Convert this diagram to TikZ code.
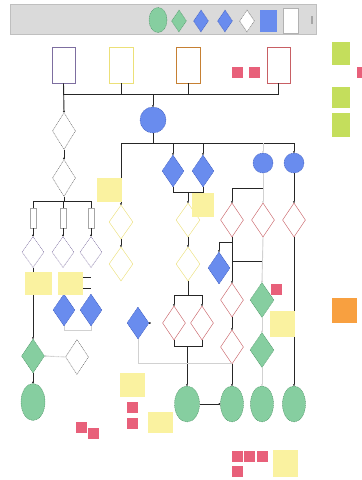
\documentclass[tikz,border=0pt]{standalone}
\usetikzlibrary{shapes.geometric,arrows.meta}

\definecolor{mint}{RGB}{134,206,160}
\definecolor{mintdark}{RGB}{80,150,105}
\definecolor{cornflower}{RGB}{105,140,238}
\definecolor{cornflowerdark}{RGB}{60,90,190}
\definecolor{rosered}{RGB}{200,95,100}
\definecolor{paleyellow}{RGB}{236,224,120}
\definecolor{dustypurple}{RGB}{125,110,160}
\definecolor{stickyyellow}{RGB}{250,242,160}
\definecolor{stickylime}{RGB}{196,222,92}
\definecolor{stickypink}{RGB}{232,96,122}
\definecolor{stickyorange}{RGB}{248,160,64}
\definecolor{barfill}{RGB}{218,218,218}

\tikzset{
  link/.style={line width=2.6pt,draw=black!85},
  faint/.style={line width=2.6pt,draw=black!18},
  tip/.style={-{Circle[length=5pt]}},
  shapebase/.style={inner sep=0pt,line width=1.2pt},
  endoval/.style={shapebase,ellipse,draw=mintdark,densely dashed,fill=mint,minimum width=2.3cm,minimum height=3.6cm},
  okdiam/.style={shapebase,diamond,draw=mintdark,densely dashed,fill=mint,minimum width=2.3cm,minimum height=3.4cm},
  bluediam/.style={shapebase,diamond,draw=cornflowerdark,densely dashed,fill=cornflower,minimum width=2.2cm,minimum height=3.2cm},
  bluecirc/.style={shapebase,circle,draw=cornflowerdark,densely dashed,fill=cornflower,minimum size=2cm},
  reddiam/.style={shapebase,diamond,draw=rosered,fill=white,minimum width=2.3cm,minimum height=3.4cm},
  ylwdiam/.style={shapebase,diamond,draw=paleyellow,fill=white,minimum width=2.4cm,minimum height=3.4cm},
  prpdiam/.style={shapebase,diamond,draw=dustypurple,densely dashed,fill=white,minimum width=2.2cm,minimum height=3.1cm},
  greydiam/.style={shapebase,diamond,draw=black!60,densely dashed,fill=white,minimum width=2.3cm,minimum height=3.7cm},
  header/.style={shapebase,rectangle,fill=white,line width=1.6pt,minimum width=2.3cm,minimum height=3.6cm},
  tag/.style={shapebase,rectangle,draw=black!35,fill=white,minimum width=0.55cm,minimum height=2cm},
  sticky/.style={inner sep=0pt,rectangle,fill=stickyyellow,minimum width=2.5cm,minimum height=2.4cm},
  limenote/.style={inner sep=0pt,rectangle,fill=stickylime,minimum width=1.8cm,minimum height=2.2cm},
  pinksq/.style={inner sep=0pt,rectangle,fill=stickypink,minimum size=1.1cm},
}

\begin{document}
\begin{tikzpicture}[x=0.1cm,y=-0.1cm]
  \useasboundingbox (0,0) rectangle (361,480);

  % legend strip
  \draw[fill=barfill,draw=black!25,line width=1pt] (10,4) rectangle (316,34);
  \node[endoval,minimum width=1.8cm,minimum height=2.5cm] (lgEnd) at (158,20) {};
  \node[okdiam,minimum width=1.5cm,minimum height=2.2cm] (lgOk) at (179,21) {};
  \node[bluediam,minimum width=1.5cm,minimum height=2.2cm] (lgBlueA) at (201,21) {};
  \node[bluediam,minimum width=1.5cm,minimum height=2.2cm] (lgBlueB) at (225,21) {};
  \node[greydiam,densely dashed,minimum width=1.5cm,minimum height=2.2cm] (lgPlain) at (247,21) {};
  \node[shapebase,rectangle,fill=cornflower,minimum width=1.7cm,minimum height=2.2cm] (lgBox) at (268.5,21) {};
  \node[shapebase,rectangle,draw=black!30,fill=white,minimum width=1.5cm,minimum height=2.5cm] (lgCard) at (290.5,20.5) {};
  \node[shapebase,rectangle,fill=black!35,minimum width=0.2cm,minimum height=0.8cm] (lgMark) at (312,20) {};

  % column headers
  \node[header,draw=dustypurple] (colPurple) at (63.5,65) {};
  \node[header,draw=paleyellow,minimum width=2.4cm] (colYellow) at (121,65) {};
  \node[header,draw=stickyorange!80!black,minimum width=2.4cm] (colOrange) at (188,65) {};
  \node[header,draw=rosered] (colRed) at (278.5,65) {};

  \coordinate (topbus) at (0,94);
  \coordinate (midbus) at (0,143);

  % left branch
  \node[greydiam] (q1) at (64,131) {};
  \node[greydiam] (q2) at (64,178) {};
  \foreach \n/\x in {A/33,B/63,C/91}{
    \node[tag] (tg\n) at (\x,218) {};
    \node[prpdiam] (pd\n) at (\x,252) {};
    \draw[link,tip] (tg\n.south) -- (pd\n.north);
    \draw[link] (tg\n |- 0,201) -- (tg\n.north);
  }
  \node[bluediam] (bdP) at (64,310) {};
  \node[bluediam] (bdQ) at (91,310) {};
  \node[okdiam] (gdL) at (33,356) {};
  \node[greydiam,minimum height=3.5cm] (wdL) at (77,357) {};
  \node[endoval,minimum width=2.4cm,minimum height=3.7cm] (elL) at (33,402) {};

  % centre
  \node[bluecirc,minimum size=2.6cm] (hub) at (153,120) {};
  \node[ylwdiam] (ydA) at (121,222) {};
  \node[ylwdiam] (ydB) at (121,264) {};
  \node[bluediam] (bdA) at (173,171) {};
  \node[bluediam] (bdB) at (203,171) {};
  \node[ylwdiam] (ydC) at (188,220) {};
  \node[ylwdiam] (ydD) at (188,264) {};
  \node[reddiam] (rdD) at (174,323) {};
  \node[reddiam] (rdE) at (202,323) {};
  \node[bluediam] (bdL) at (138,323) {};

  % right side
  \node[bluecirc] (cirA) at (263,163) {};
  \node[bluecirc] (cirB) at (294,163) {};
  \node[reddiam] (rdA) at (232,220) {};
  \node[reddiam] (rdB) at (263,220) {};
  \node[reddiam] (rdC) at (294,220) {};
  \node[bluediam] (bdC) at (219,268) {};
  \node[reddiam] (rdF) at (232,300) {};
  \node[reddiam] (rdG) at (232,347) {};
  \node[okdiam,minimum width=2.4cm,minimum height=3.5cm] (gnA) at (262,300) {};
  \node[okdiam,minimum width=2.4cm,minimum height=3.5cm] (gnB) at (262,350) {};

  \node[endoval,minimum width=2.5cm] (elA) at (187,404) {};
  \foreach \n/\x in {B/232,C/262,D/294}
    \node[endoval] (el\n) at (\x,404) {};

  % header bus
  \draw[link] (colPurple |- topbus) -- (colRed |- topbus);
  \foreach \c in {colYellow,colOrange,colRed}
    \draw[link] (\c.south) -- (\c |- topbus);
  \draw[link,tip] (colPurple.south) -- (q1.north);
  \draw[link,tip] (hub |- topbus) -- (hub.north);

  % left chain
  \draw[link,tip] (q1.south) -- (q2.north);
  \draw[link] (q2.south) -- (q2 |- 0,201);
  \draw[link] (tgA |- 0,201) -- (tgC |- 0,201);
  \draw[link,tip] (pdA.south) -- (gdL.north);
  \draw[link,tip] (gdL.south) -- (elL.north);
  \draw[faint,densely dotted,tip] (wdL.west) -- (gdL.east);
  \draw[faint] (bdP.south) -- (bdP |- 0,330) -- (bdQ |- 0,330) -- (bdQ.south);

  % hub bus
  \draw[link] (hub.south) -- (hub |- midbus);
  \draw[link] (ydA |- midbus) -- (cirB |- midbus);
  \draw[link,tip] (ydA |- midbus) -- (ydA.north);
  \draw[link,tip] (ydA.south) -- (ydB.north);
  \draw[link,tip] (bdA |- midbus) -- (bdA.north);
  \draw[link,tip] (bdB |- midbus) -- (bdB.north);
  \draw[faint,tip] (cirA |- midbus) -- (cirA.north);
  \draw[link,tip] (cirB |- midbus) -- (cirB.north);

  % middle column
  \draw[link] (bdA.south) -- (bdA |- 0,192) -- (bdB |- 0,192) -- (bdB.south);
  \draw[link,tip] (ydC |- 0,192) -- (ydC.north);
  \draw[link,tip] (ydC.south) -- (ydD.north);
  \draw[link] (ydD.south) -- (ydD |- 0,295);
  \draw[link] (rdD |- 0,295) -- (rdE |- 0,295);
  \draw[link,tip] (rdD |- 0,295) -- (rdD.north);
  \draw[link,tip] (rdE |- 0,295) -- (rdE.north);
  \draw[link] (rdD.south) -- (rdD |- 0,346) -- (rdE |- 0,346) -- (rdE.south);
  \draw[link,tip] (elA |- 0,346) -- (elA.north);
  \draw[link,tip] (bdL.east) -- ++(1.5,0);
  \draw[faint] (bdL.south) -- (bdL |- 0,363) -- (rdG |- 0,363);
  \draw[link,tip] (elA.east) -- (elB.west);

  % right columns
  \draw[faint,tip] (cirA.south) -- (rdB.north);
  \draw[link] (cirA |- 0,188) -- (rdA |- 0,188);
  \draw[link,tip] (rdA |- 0,188) -- (rdA.north);
  \draw[link,tip] (cirB.south) -- (rdC.north);
  \draw[link,tip] (rdC.south) -- (elD.north);
  \draw[link,tip] (rdA.south) -- (rdF.north);
  \draw[link] (rdA |- 0,242) -- (bdC |- 0,242);
  \draw[link,tip] (bdC |- 0,242) -- (bdC.north);
  \draw[link] (rdA |- 0,261) -- (rdB |- 0,261);
  \draw[faint,tip] (rdB.south) -- (gnA.north);
  \draw[faint,tip] (gnA.south) -- (gnB.north);
  \draw[faint,tip] (gnB.south) -- (elC.north);
  \draw[link,tip] (rdF.south) -- (rdG.north);
  \draw[link,tip] (rdG.south) -- (elB.north);

  % sticky notes
  \node[sticky] (nY1) at (109.5,189.5) {};
  \node[sticky,minimum width=2.2cm] (nY2) at (203,205) {};
  \node[sticky,minimum width=2.7cm,minimum height=2.3cm] (nY3) at (38.5,283.5) {};
  \node[sticky,minimum height=2.3cm] (nY4) at (70.5,283.5) {};
  \node[sticky,minimum height=2.6cm] (nY5) at (282.5,324) {};
  \node[sticky] (nY6) at (132.5,385) {};
  \node[sticky,minimum height=2.1cm] (nY7) at (160.5,422.5) {};
  \node[sticky,minimum height=2.7cm] (nY8) at (285.5,463.5) {};
  \draw[link] (nY4.east |- 0,277) -- ++(8,0);
  \draw[link] (nY4.east |- 0,288) -- ++(8,0);

  \node[limenote,minimum height=2.3cm] (gn1) at (341,53.5) {};
  \node[limenote,minimum height=2.1cm] (gn2) at (341,97.5) {};
  \node[limenote,minimum height=2.4cm] (gn3) at (341,125) {};
  \node[inner sep=0pt,fill=stickyorange,minimum size=2.5cm] (orn) at (344.5,310.5) {};

  \foreach \x/\y [count=\i] in {237.5/72,254/72,362.5/72,276.5/289,132/407.5,132/423,
      81.5/427.5,93.5/433,237/456,249.5/456,262.5/456,237/471.5}
    \node[pinksq] (pk\i) at (\x,\y) {};
\end{tikzpicture}
\end{document}
